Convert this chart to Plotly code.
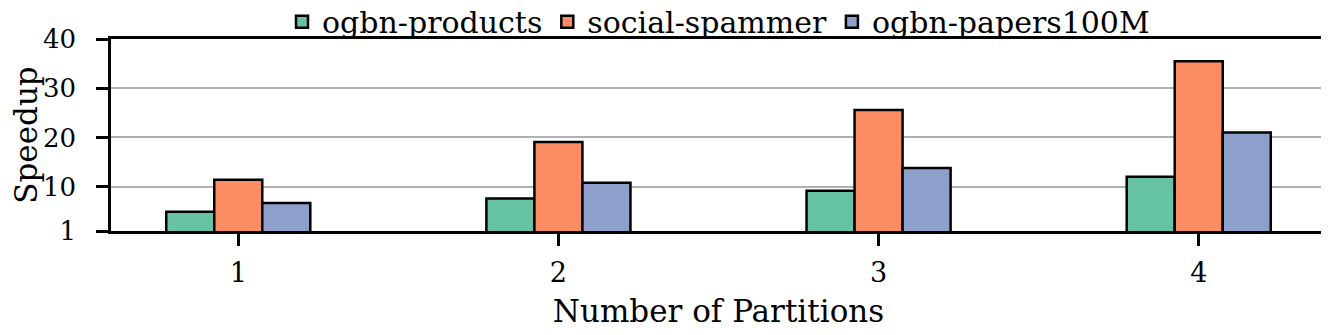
import plotly.graph_objects as go

GREEN = '#66c2a5'
ORANGE = '#fc8d62'
BLUE = '#8da0cb'
FONT = 'DejaVu Serif, serif'

partitions = [1, 2, 3, 4]
ogbn_products = [4.9, 7.6, 9.2, 12.0]
social_spammer = [11.4, 19.1, 25.6, 35.5]
ogbn_papers100m = [6.7, 10.8, 13.8, 21.0]
y_ticks = [1, 10, 20, 30, 40]

series = [
    ('ogbn-products', ogbn_products, GREEN),
    ('social-spammer', social_spammer, ORANGE),
    ('ogbn-papers100M', ogbn_papers100m, BLUE),
]

fig = go.Figure()
for name, vals, color in series:
    fig.add_trace(go.Bar(
        x=partitions, y=vals, name=name,
        marker=dict(color=color, line=dict(color='black', width=2.5)),
    ))

# page body keeps its default 8px margin, so the figure is 8px smaller
fig.update_layout(
    width=1321, height=327,
    barmode='group', bargap=0.55, bargroupgap=0,
    template='plotly_white',
    font=dict(family=FONT, size=31, color='black'),
    margin=dict(l=103, r=3, t=31, b=104, autoexpand=False),
    paper_bgcolor='white', plot_bgcolor='white',
    legend=dict(orientation='h', x=0.5, xanchor='center', y=1.09, yanchor='middle',
                font=dict(family=FONT, size=30), bgcolor='rgba(0,0,0,0)',
                itemwidth=30, tracegroupgap=0),
    showlegend=True,
)
fig.update_xaxes(
    range=[0.6025, 4.3975], tickvals=partitions, ticktext=[str(p) for p in partitions],
    showgrid=False, zeroline=False,
    showline=True, linecolor='black', linewidth=2.5, mirror=True,
    ticks='outside', ticklen=12, tickwidth=2.5, tickcolor='black',
    ticklabelstandoff=4,
    title=dict(text='Number of Partitions', standoff=14, font=dict(size=31)),
    tickfont=dict(size=27),
)
fig.update_yaxes(
    range=[1, 40], tickvals=y_ticks,
    showgrid=True, gridcolor='#b0b0b0', gridwidth=2, zeroline=False,
    showline=True, linecolor='black', linewidth=2.5, mirror=True,
    ticks='outside', ticklen=12, tickwidth=2.5, tickcolor='black',
    ticklabelstandoff=15,
    title=dict(text='Speedup', standoff=8, font=dict(size=31)),
    tickfont=dict(size=26),
)

fig.write_html('out.html')
